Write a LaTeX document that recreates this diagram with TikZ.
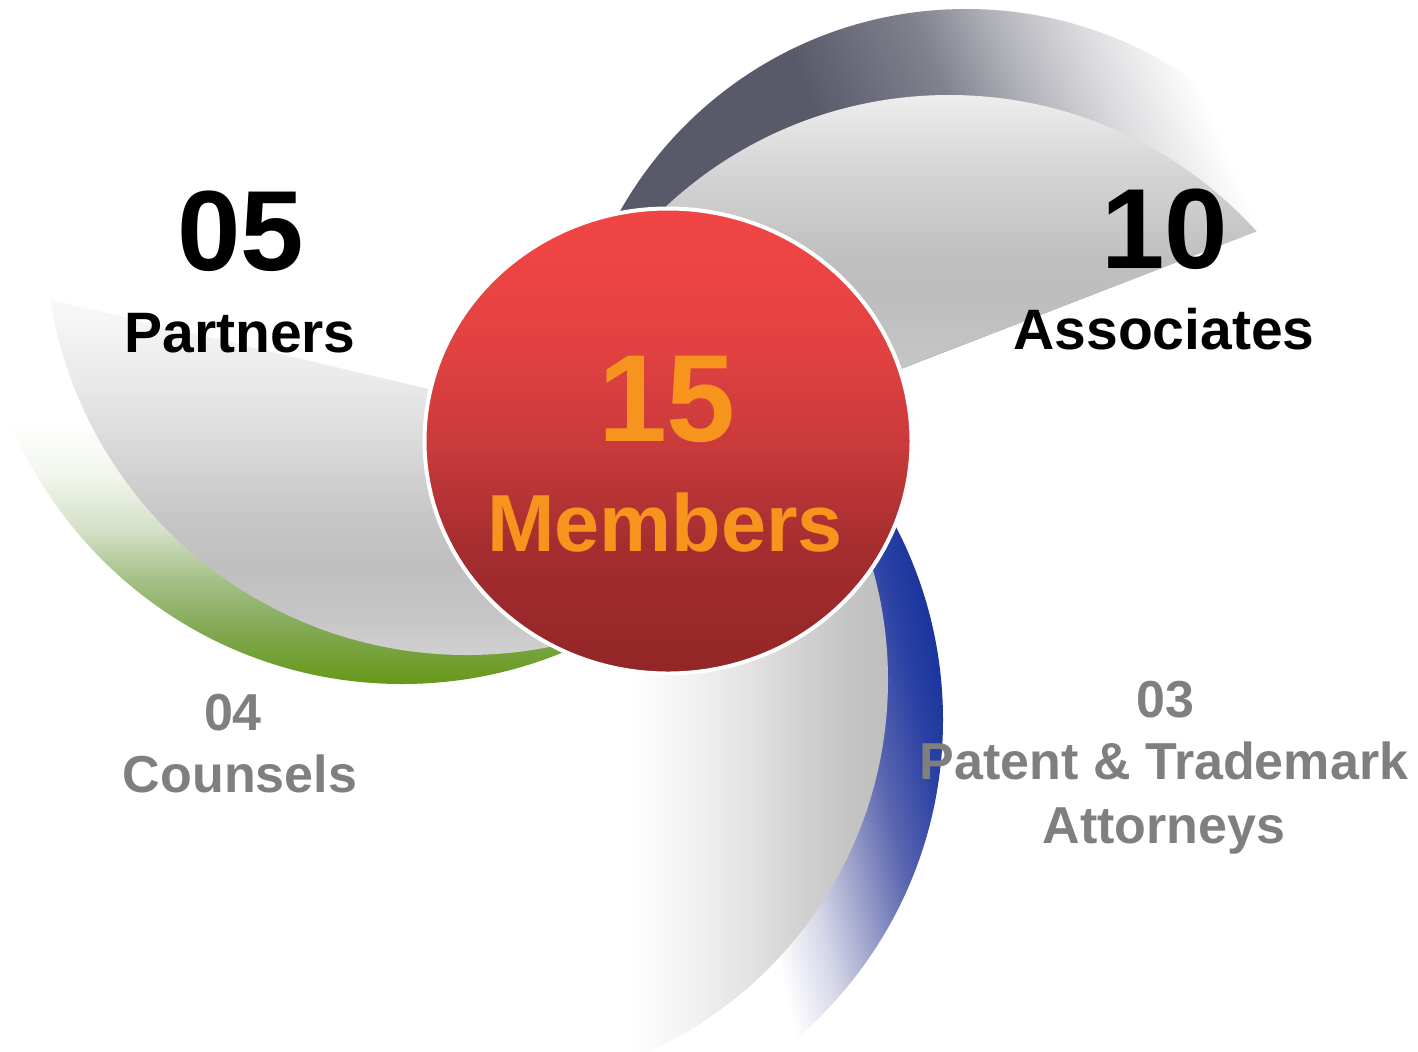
\documentclass[tikz,border=0pt]{standalone}
\usepackage{fontspec}
\setmainfont{Liberation Sans}
% red ellipse
\definecolor{rd0}{HTML}{F04545}\definecolor{rd1}{HTML}{EF4444}\definecolor{rd2}{HTML}{E24141}
\definecolor{rd3}{HTML}{C93A3B}\definecolor{rd4}{HTML}{A52D2F}\definecolor{rd5}{HTML}{962729}
\definecolor{rd6}{HTML}{932628}
% grays
\definecolor{ga1}{HTML}{CCCCCC}\definecolor{ga2}{HTML}{C6C6C6}\definecolor{ga3}{HTML}{BEBEBE}
\definecolor{ga4}{HTML}{BFBFBF}\definecolor{ga5}{HTML}{D5D5D5}\definecolor{ga6}{HTML}{EFEFEF}
\definecolor{gb1}{HTML}{D2D2D2}\definecolor{gb2}{HTML}{D8D8D8}\definecolor{gb3}{HTML}{E9E9E9}
\definecolor{gb4}{HTML}{FAFAFA}\definecolor{gb5}{HTML}{FBFBFB}
\definecolor{gc1}{HTML}{F0F0F0}\definecolor{gc2}{HTML}{E2E2E2}\definecolor{gc3}{HTML}{C4C4C4}
\definecolor{gc0}{HTML}{FDFDFD}
% green
\definecolor{gn1}{HTML}{62981A}\definecolor{gn2}{HTML}{66991A}\definecolor{gn3}{HTML}{82A852}
\definecolor{gn4}{HTML}{A4C088}\definecolor{gn5}{HTML}{D4E0C6}\definecolor{gn6}{HTML}{F2F6EE}
% dark slate
\definecolor{dk1}{HTML}{585A6A}\definecolor{dk2}{HTML}{82828E}\definecolor{dk3}{HTML}{B2B2BA}
\definecolor{dk4}{HTML}{DADADD}
% blue
\definecolor{bl1}{HTML}{16329C}\definecolor{bl2}{HTML}{2A40A4}\definecolor{bl3}{HTML}{5A66B0}
\definecolor{bl4}{HTML}{A0A4CC}\definecolor{bl5}{HTML}{D4D6E8}
% text
\definecolor{orangetxt}{HTML}{F7941D}
\definecolor{graytxt}{HTML}{7F7F7F}

\pgfdeclareverticalshading{redsh}{100bp}{color(0bp)=(rd6); color(25bp)=(rd6); color(28bp)=(rd5);
  color(38.7bp)=(rd4); color(49.4bp)=(rd3); color(60bp)=(rd2); color(70.7bp)=(rd1);
  color(75bp)=(rd0); color(100bp)=(rd0)}
\pgfdeclareverticalshading{grtr}{100bp}{color(0bp)=(ga1); color(25bp)=(ga1); color(42.4bp)=(ga2);
  color(50.6bp)=(ga3); color(55.2bp)=(ga4); color(65.7bp)=(ga5); color(75bp)=(ga6); color(100bp)=(ga6)}
\pgfdeclareverticalshading{grl}{100bp}{color(0bp)=(gb1); color(25bp)=(gb1); color(30.8bp)=(ga2);
  color(37.6bp)=(ga4); color(44.3bp)=(ga2); color(53.4bp)=(gb2); color(62.4bp)=(gb3);
  color(74.3bp)=(gb4); color(75bp)=(gb5); color(100bp)=(gb5)}
\pgfdeclareverticalshading{grn}{100bp}{color(0bp)=(gn1); color(25bp)=(gn1); color(26.3bp)=(gn2);
  color(36.1bp)=(gn3); color(45.4bp)=(gn4); color(54.6bp)=(gn5); color(65bp)=(gn6);
  color(75bp)=(white); color(100bp)=(white)}
\pgfdeclarehorizontalshading{grb}{100bp}{color(0bp)=(white); color(25bp)=(white); color(26.9bp)=(gc0);
  color(38.5bp)=(gc1); color(48.1bp)=(gc2); color(57.7bp)=(gb1); color(67.3bp)=(gc3);
  color(75bp)=(ga3); color(100bp)=(ga3)}
\pgfdeclarehorizontalshading{dkf}{100bp}{color(0bp)=(dk1); color(50bp)=(dk1); color(56.44bp)=(dk2);
  color(60.11bp)=(dk3); color(63.79bp)=(dk4); color(68.38bp)=(white); color(100bp)=(white)}
\pgfdeclarehorizontalshading{blf}{100bp}{color(0bp)=(bl1); color(50bp)=(bl1); color(52.03bp)=(bl2);
  color(54.57bp)=(bl3); color(57.11bp)=(bl4); color(59.14bp)=(bl5); color(61.67bp)=(white);
  color(100bp)=(white)}

\begin{document}
\begin{tikzpicture}[x=0.5pt,y=-0.5pt,
  bignum/.style={inner sep=0pt,anchor=base,font=\fontsize{57}{57}\selectfont\bfseries,text=black},
  blacklbl/.style={inner sep=0pt,anchor=base,font=\fontsize{28.5}{30}\selectfont\bfseries,text=black},
  graylbl/.style={inner sep=0pt,anchor=base,font=\fontsize{26}{28}\selectfont\bfseries,text=graytxt},
  centertxt/.style={inner sep=0pt,anchor=base,text=orangetxt}]
\fill[white] (0,0) rectangle (1418,1051);
\useasboundingbox (0,0) rectangle (1418,1051);

% ---- blue crescent (behind bottom blade)
\begin{scope}
  \clip (523.5,720) circle[radius=419.5];
  \clip (600,450) rectangle (1000,1051);
  \begin{scope}[transform canvas={rotate around={192.9:(935,600)}}]
    \shade[shading=blf] (435,0) rectangle (1435,1200);
  \end{scope}
\end{scope}

% ---- bottom gray blade
\begin{scope}
  \clip (480,680) circle[radius=408];
  \shade[shading=grb] (630,450) rectangle (890,1051);
\end{scope}

% ---- green crescent (behind left blade)
\begin{scope}
  \clip (402,260) circle[radius=424];
  \clip (0,400) rectangle (668,700);
  \shade[shading=grn] (0,420) rectangle (668,690);
\end{scope}

% ---- left gray blade
\begin{scope}
  \clip (0,287.6) -- (668,445.8) -- (668,720) -- (0,720) -- cycle;
  \clip (467,233) circle[radius=422];
  \shade[shading=grl] (0,290) rectangle (668,660);
\end{scope}

% ---- dark crescent (behind top-right blade)
\begin{scope}
  \clip (540,508.2) -- (1420,168.3) -- (1420,0) -- (540,0) -- cycle;
  \clip (966,406) circle[radius=397];
  \begin{scope}[transform canvas={rotate around={22.4:(850,200)}}]
    \shade[shading=dkf] (350,-400) rectangle (1350,800);
  \end{scope}
\end{scope}

% ---- top-right gray blade
\begin{scope}
  \clip (540,508.2) -- (1420,168.3) -- (1420,0) -- (540,0) -- cycle;
  \clip (949,510) circle[radius=415];
  \shade[shading=grtr] (540,90) rectangle (1300,520);
\end{scope}

% ---- central ellipse
\shade[shading=redsh] (668,441) ellipse[x radius=245, y radius=234];
\draw[white,line width=2pt] (668,441) ellipse[x radius=243.5, y radius=232.5];

% ---- texts
\node[bignum] (n05) at (241,270) {05};
\node[blacklbl] (partners) at (240,352) {Partners};
\node[bignum] (n10) at (1165,268) {10};
\node[blacklbl] (associates) at (1164,349) {Associates};
\node[centertxt,font=\fontsize{62}{62}\selectfont\bfseries] (n15) at (667,441) {15};
\node[centertxt,font=\fontsize{40.5}{42}\selectfont\bfseries] (members) at (665,551) {Members};
\node[graylbl] (n04) at (233,730) {04};
\node[graylbl] (counsels) at (240,792) {Counsels};
\node[graylbl] (n03) at (1165,717) {03};
\node[graylbl] (patent) at (1164,779) {Patent \& Trademark};
\node[graylbl] (attorneys) at (1164,843) {Attorneys};
\end{tikzpicture}
\end{document}
